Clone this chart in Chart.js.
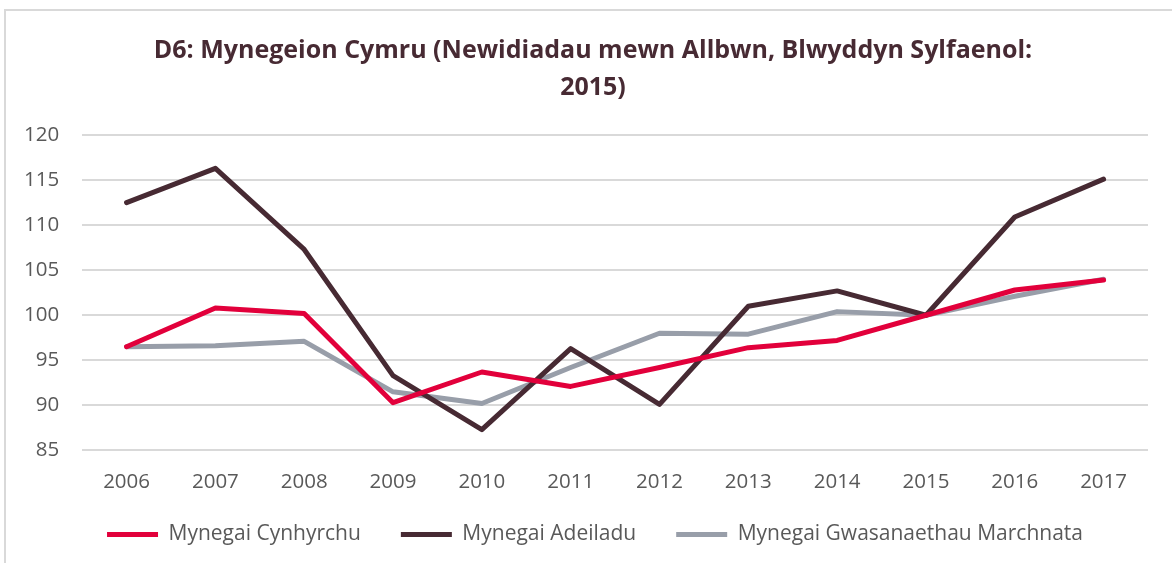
<!DOCTYPE html>
<html>
<head>
<meta charset="utf-8">
<script src="https://cdn.jsdelivr.net/npm/chart.js@4/dist/chart.umd.min.js"></script>
<style>
  html, body { margin: 0; padding: 0; background: #ffffff; }
  #wrap { position: relative; width: 1172px; height: 563px; overflow: hidden; }
  #frame { position: absolute; left: 4px; top: 9px; width: 1200px; height: 600px;
           border-left: 2px solid #d9d9d9; border-top: 2px solid #d9d9d9; }
  #c { position: absolute; left: 0; top: 0; }
</style>
</head>
<body>
<div id="wrap">
  <div id="frame"></div>
  <canvas id="c" width="1172" height="563"></canvas>
</div>
<script>
const titleLines = ["D6: Mynegeion Cymru (Newidiadau mewn Allbwn, Blwyddyn Sylfaenol:", "2015)"];
const years = ["2006","2007","2008","2009","2010","2011","2012","2013","2014","2015","2016","2017"];
const cynhyrchu = [96.5, 100.8, 100.2, 90.3, 93.7, 92.1, 94.2, 96.4, 97.2, 100.0, 102.8, 103.9];
const adeiladu = [112.5, 116.3, 107.3, 93.3, 87.3, 96.3, 90.1, 101.0, 102.7, 100.0, 110.9, 115.1];
const gwasanaethau = [96.5, 96.6, 97.1, 91.5, 90.2, 94.2, 98.0, 97.9, 100.4, 100.0, 102.1, 104.0];
const seriesNames = ["Mynegai Cynhyrchu", "Mynegai Adeiladu", "Mynegai Gwasanaethau Marchnata"];
const yMin = 85, yMax = 120, yStep = 5;

const FONT = "'Open Sans', 'DejaVu Sans', sans-serif";
const colors = ["#e2003b", "#472a33", "#989ea9"];

function ds(label, data, color) {
  return {
    label, data,
    borderColor: color, backgroundColor: color,
    borderWidth: 5, borderCapStyle: 'round', borderJoinStyle: 'round',
    pointRadius: 0, pointHoverRadius: 0, pointStyle: 'line',
    tension: 0, fill: false
  };
}

// Nudge title and legend blocks to match the reference placement
const nudgePlugin = {
  id: 'nudge',
  afterLayout(chart) {
    const t = chart.titleBlock;
    if (t) { t.left += 18.5; t.right += 18.5; }
    const lg = chart.legend;
    if (lg) { lg.top -= 29; lg.bottom -= 29; lg.left += 20.5; lg.right += 20.5; }
  }
};

new Chart(document.getElementById('c'), {
  type: 'line',
  data: {
    labels: years,
    datasets: [
      ds(seriesNames[0], cynhyrchu, colors[0]),
      ds(seriesNames[1], adeiladu, colors[1]),
      ds(seriesNames[2], gwasanaethau, colors[2])
    ]
  },
  options: {
    responsive: false,
    animation: false,
    events: [],
    layout: { padding: { top: 10, left: 1, right: 24, bottom: -21 } },
    plugins: {
      tooltip: { enabled: false },
      title: {
        display: true,
        text: titleLines,
        color: '#472a33',
        font: { family: FONT, size: 25, weight: 'bold', lineHeight: '37px' },
        padding: { top: 22, bottom: 29 }
      },
      legend: {
        display: true,
        position: 'bottom',
        labels: {
          color: '#595959',
          font: { family: FONT, size: 21 },
          usePointStyle: true,
          pointStyleWidth: 51,
          padding: 40
        }
      }
    },
    scales: {
      x: {
        offset: true,
        grid: { display: false, drawTicks: false, offset: true },
        border: { display: false },
        ticks: { color: '#595959', font: { family: FONT, size: 20.5 }, padding: 19, maxRotation: 0 }
      },
      y: {
        min: yMin, max: yMax,
        grid: { color: '#d9d9d9', lineWidth: 2, drawTicks: false },
        border: { display: false },
        ticks: { stepSize: yStep, color: '#595959', font: { family: FONT, size: 20.5 }, padding: 23 }
      }
    }
  },
  plugins: [nudgePlugin]
});
</script>
</body>
</html>
